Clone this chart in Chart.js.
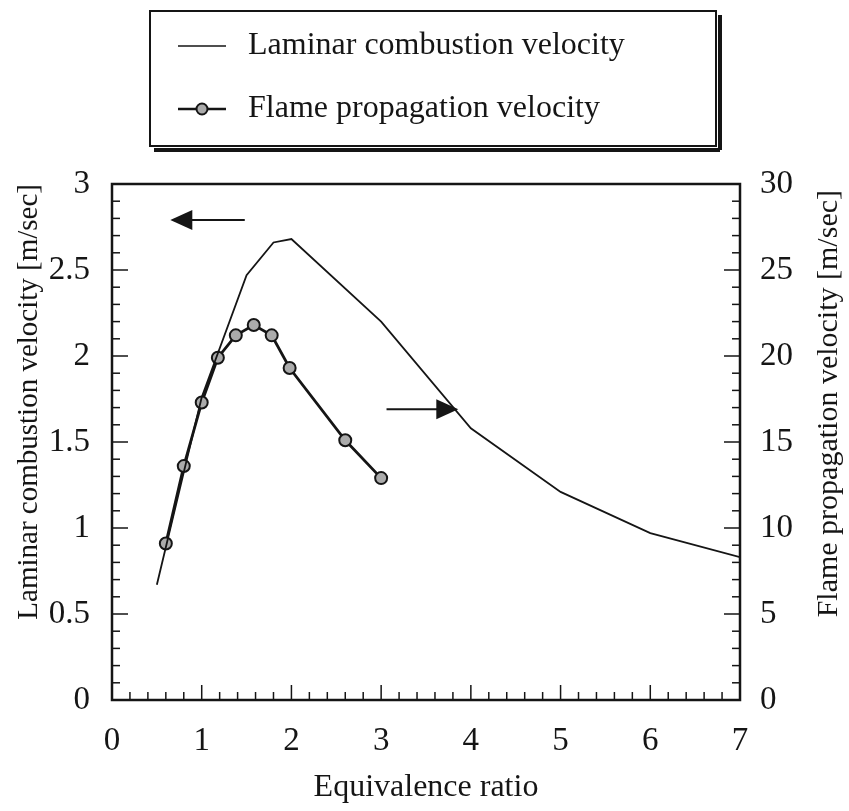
<!DOCTYPE html>
<html>
<head>
<meta charset="utf-8">
<script src="https://cdn.jsdelivr.net/npm/chart.js@4.4.1/dist/chart.umd.min.js"></script>
<style>
  html, body { margin: 0; padding: 0; background: #fff; }
  #wrap { width: 849px; height: 811px; }
</style>
</head>
<body>
<div id="wrap"><canvas id="chart" width="849" height="811"></canvas></div>
<script>
// laminar combustion velocity (left axis, m/sec)
const laminarRatio = [0.5, 1.0, 1.5, 1.8, 2.0, 3.0, 4.0, 5.0, 6.0, 7.0];
const laminarVelocity = [0.67, 1.76, 2.47, 2.66, 2.68, 2.2, 1.58, 1.21, 0.97, 0.83];

// flame propagation velocity (right axis, m/sec)
const flameRatio = [0.6, 0.8, 1.0, 1.18, 1.38, 1.58, 1.78, 1.98, 2.6, 3.0];
const flameVelocity = [9.1, 13.6, 17.3, 19.9, 21.2, 21.8, 21.2, 19.3, 15.1, 12.9];

const xTickValues = [0, 1, 2, 3, 4, 5, 6, 7];
const leftTickValues = [0, 0.5, 1, 1.5, 2, 2.5, 3];
const rightTickValues = [0, 5, 10, 15, 20, 25, 30];

const legendLabels = ['Laminar combustion velocity', 'Flame propagation velocity'];
const xTitle = 'Equivalence ratio';
const leftTitle = 'Laminar combustion velocity [m/sec]';
const rightTitle = 'Flame propagation velocity [m/sec]';

const FONT = '"Liberation Serif", "Times New Roman", serif';
const INK = '#151515';
const MARKER = '#ababab';

const toXY = (xs, ys) => xs.map((x, i) => ({ x, y: ys[i] }));

// inward tick marks, frame, arrows, right title, legend box
const decorations = {
  id: 'decorations',
  afterDatasetsDraw(chart) {
    const { ctx, chartArea: a, scales } = chart;
    const seg = (x1, y1, x2, y2) => {
      ctx.beginPath();
      ctx.moveTo(x1, y1);
      ctx.lineTo(x2, y2);
      ctx.stroke();
    };
    ctx.save();
    ctx.strokeStyle = INK;
    ctx.fillStyle = INK;

    ctx.lineWidth = 1.5;
    for (let i = 0; i <= 35; i++) {
      const px = scales.x.getPixelForValue(i * 0.2);
      seg(px, a.bottom, px, a.bottom - (i % 5 === 0 ? 15 : 8));
    }
    for (let i = 0; i <= 30; i++) {
      const py = scales.y.getPixelForValue(i * 0.1);
      seg(a.left, py, a.left + (i % 5 === 0 ? 16 : 8), py);
    }
    for (let i = 0; i <= 30; i++) {
      const py = scales.y1.getPixelForValue(i);
      seg(a.right, py, a.right - (i % 5 === 0 ? 16 : 8), py);
    }

    ctx.lineWidth = 2.5;
    ctx.strokeRect(a.left, a.top, a.right - a.left, a.bottom - a.top);

    // arrows pointing to each axis
    const arrow = (x1, x2, yv) => {
      const px1 = scales.x.getPixelForValue(x1);
      const px2 = scales.x.getPixelForValue(x2);
      const py = scales.y.getPixelForValue(yv);
      const dir = Math.sign(px2 - px1);
      ctx.lineWidth = 2;
      seg(px1, py, px2 - dir * 18, py);
      ctx.beginPath();
      ctx.moveTo(px2, py);
      ctx.lineTo(px2 - dir * 22, py - 10);
      ctx.lineTo(px2 - dir * 22, py + 10);
      ctx.closePath();
      ctx.fill();
    };
    arrow(1.48, 0.65, 2.79);
    arrow(3.06, 3.86, 1.69);

    // right axis title, reading bottom to top
    ctx.save();
    ctx.translate(829, a.top + 6);
    ctx.rotate(-Math.PI / 2);
    ctx.font = '30px ' + FONT;
    ctx.textAlign = 'right';
    ctx.textBaseline = 'middle';
    ctx.fillText(rightTitle, 0, 0);
    ctx.restore();

    // legend
    const box = { l: 150, t: 11, r: 716, b: 146 };
    ctx.lineWidth = 2;
    ctx.strokeRect(box.l, box.t, box.r - box.l, box.b - box.t);
    ctx.lineWidth = 4;
    seg(box.l + 4, box.b + 4, box.r + 4, box.b + 4);
    seg(box.r + 4, box.t + 4, box.r + 4, box.b + 4);

    ctx.font = '32px ' + FONT;
    ctx.textBaseline = 'middle';
    ctx.textAlign = 'left';
    const rows = [46, 109];
    ctx.lineWidth = 1.5;
    seg(178, rows[0], 226, rows[0]);
    ctx.fillText(legendLabels[0], 248, rows[0]);
    ctx.lineWidth = 2.5;
    seg(178, rows[1], 226, rows[1]);
    ctx.beginPath();
    ctx.arc(202, rows[1], 5.5, 0, Math.PI * 2);
    ctx.fillStyle = MARKER;
    ctx.fill();
    ctx.lineWidth = 2;
    ctx.stroke();
    ctx.fillStyle = INK;
    ctx.fillText(legendLabels[1], 248, rows[1]);
    ctx.restore();
  },
};

const fixWidth = (w) => (scale) => { scale.width = w; };
const plainLabel = (v) => String(v);

new Chart(document.getElementById('chart'), {
  type: 'scatter',
  data: {
    datasets: [
      {
        label: legendLabels[0],
        data: toXY(laminarRatio, laminarVelocity),
        showLine: true,
        borderColor: INK,
        borderWidth: 1.8,
        pointRadius: 0,
        tension: 0,
        yAxisID: 'y',
      },
      {
        label: legendLabels[1],
        data: toXY(flameRatio, flameVelocity),
        showLine: true,
        borderColor: INK,
        borderWidth: 2.8,
        pointRadius: 6,
        pointBackgroundColor: MARKER,
        pointBorderColor: INK,
        pointBorderWidth: 2,
        tension: 0,
        yAxisID: 'y1',
      },
    ],
  },
  plugins: [decorations],
  options: {
    responsive: false,
    animation: false,
    layout: { padding: { top: 184, left: 0, right: 0, bottom: 0 } },
    plugins: {
      legend: { display: false },
      tooltip: { enabled: false },
    },
    scales: {
      x: {
        type: 'linear',
        min: 0,
        max: 7,
        afterFit: (s) => { s.height = 111; },
        afterBuildTicks: (s) => { s.ticks = xTickValues.map((v) => ({ value: v })); },
        grid: { display: false, drawTicks: false },
        border: { display: false },
        ticks: { color: INK, font: { family: FONT, size: 33 }, padding: 22, callback: plainLabel },
        title: { display: true, text: xTitle, color: INK, font: { family: FONT, size: 32 }, padding: { top: 0, bottom: 4 } },
      },
      y: {
        position: 'left',
        min: 0,
        max: 3,
        afterFit: fixWidth(112),
        afterBuildTicks: (s) => { s.ticks = leftTickValues.map((v) => ({ value: v })); },
        grid: { display: false, drawTicks: false },
        border: { display: false },
        ticks: { color: INK, font: { family: FONT, size: 33 }, padding: 22, callback: plainLabel },
        title: { display: true, text: leftTitle, align: 'end', color: INK, font: { family: FONT, size: 29 }, padding: { top: 12 } },
      },
      y1: {
        position: 'right',
        min: 0,
        max: 30,
        afterFit: fixWidth(109),
        afterBuildTicks: (s) => { s.ticks = rightTickValues.map((v) => ({ value: v })); },
        grid: { display: false, drawTicks: false },
        border: { display: false },
        ticks: { color: INK, font: { family: FONT, size: 33 }, padding: 20, callback: plainLabel },
        title: { display: false, text: rightTitle },
      },
    },
  },
});
</script>
</body>
</html>
